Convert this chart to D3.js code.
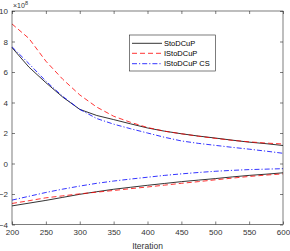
<!DOCTYPE html>
<html><head><meta charset="utf-8">
<script src="https://cdn.jsdelivr.net/npm/d3@7"></script>
<style>body{margin:0;background:#fff}svg{display:block}</style>
</head><body>
<script>
const iterations = [200,225,250,275,300,325,350,375,400,425,450,475,500,525,550,575,600];
// values in units of 1e8
const stoUpper  = [7.6,6.32,5.3,4.35,3.55,3.15,2.88,2.6,2.33,2.12,1.95,1.8,1.67,1.53,1.4,1.3,1.18];
const stoLower  = [-2.78,-2.6,-2.42,-2.22,-2.02,-1.85,-1.69,-1.56,-1.43,-1.31,-1.19,-1.09,-0.99,-0.88,-0.78,-0.7,-0.61];
const iStoUpper = [9.15,8.2,6.71,5.52,4.5,3.7,3.1,2.7,2.36,2.12,1.95,1.79,1.65,1.52,1.42,1.34,1.28];
const iStoLower = [-2.62,-2.44,-2.25,-2.12,-1.99,-1.88,-1.77,-1.65,-1.54,-1.42,-1.3,-1.19,-1.07,-0.96,-0.85,-0.76,-0.68];
const csUpper   = [7.65,6.55,5.4,4.4,3.55,2.95,2.58,2.28,2.0,1.72,1.48,1.32,1.19,1.06,0.94,0.81,0.67];
const csLower   = [-2.4,-2.15,-1.9,-1.68,-1.48,-1.3,-1.15,-1.02,-0.9,-0.78,-0.68,-0.59,-0.51,-0.45,-0.4,-0.37,-0.34];
const xTicks = [200,250,300,350,400,450,500,550,600];
const yTicks = [-4,-2,0,2,4,6,8,10];
const seriesNames = ["StoDCuP","IStoDCuP","IStoDCuP CS"];

(function(){
const W=290,H=251, L=12,T=11,R=283,B=224.5;
const svg=d3.select("body").append("svg").attr("width",W).attr("height",H)
  .style("font-family","'Liberation Sans',Arial,sans-serif");
const x=d3.scaleLinear().domain([200,600]).range([L,R]);
const y=d3.scaleLinear().domain([-4,10]).range([B,T]);
const axisCol="#262626", textCol="#333";

svg.append("rect").attr("x",L).attr("y",T).attr("width",R-L).attr("height",B-T).attr("fill","#fff");

const styles=[
  {c:"#000000",d:null},
  {c:"#ff0000",d:"5,3"},
  {c:"#0000ff",d:"5,2,1.2,2"}
];
const data=[[stoUpper,stoLower],[iStoUpper,iStoLower],[csUpper,csLower]];
const line=d3.line().x((d,i)=>x(iterations[i])).y(d=>y(d));
const g=svg.append("g");
data.forEach((pair,k)=>{
  pair.forEach(vals=>{
    g.append("path").attr("d",line(vals)).attr("fill","none")
      .attr("stroke",styles[k].c).attr("stroke-width",0.8)
      .attr("stroke-dasharray",styles[k].d);
  });
});

const ax=svg.append("g");
const fmt=d3.format("d");
const axB=d3.axisBottom(x).tickValues(xTicks).tickSize(-3).tickPadding(5).tickFormat(fmt);
const axT=d3.axisTop(x).tickValues(xTicks).tickSize(-3).tickFormat("");
const axL=d3.axisLeft(y).tickValues(yTicks).tickSize(-3).tickPadding(4).tickFormat(fmt);
const axR=d3.axisRight(y).tickValues(yTicks).tickSize(-3).tickFormat("");
function style(sel){
  sel.selectAll("path,line").attr("stroke",axisCol).attr("stroke-width",0.6);
  sel.selectAll("text").attr("fill",textCol).style("font-size","8px").style("font-family","'Liberation Sans',Arial,sans-serif");
}
ax.append("g").attr("transform",`translate(0,${B})`).call(axB).call(style);
ax.append("g").attr("transform",`translate(0,${T})`).call(axT).call(style);
ax.append("g").attr("transform",`translate(${L},0)`).call(axL).call(style);
ax.append("g").attr("transform",`translate(${R},0)`).call(axR).call(style);
ax.selectAll(".domain").remove();
svg.append("rect").attr("x",L).attr("y",T).attr("width",R-L).attr("height",B-T)
  .attr("fill","none").attr("stroke",axisCol).attr("stroke-width",0.6);

const ex=svg.append("text").attr("x",L+1).attr("y",T-3).attr("fill",textCol).style("font-size","7px");
ex.append("tspan").text("×10");
ex.append("tspan").attr("dy",-3).style("font-size","5.5px").text("8");

svg.append("text").attr("x",(L+R)/2).attr("y",249).attr("text-anchor","middle")
  .attr("fill",textCol).style("font-size","8.5px").text("Iteration");

const lg=svg.append("g");
lg.append("rect").attr("x",129.5).attr("y",35).attr("width",86).attr("height",36)
  .attr("fill","#fff").attr("stroke",axisCol).attr("stroke-width",0.6);
const rowY=[43.3,53.3,63.7];
seriesNames.forEach((n,i)=>{
  lg.append("line").attr("x1",132).attr("x2",162).attr("y1",rowY[i]).attr("y2",rowY[i])
    .attr("stroke",styles[i].c).attr("stroke-width",0.8).attr("stroke-dasharray",styles[i].d);
  lg.append("text").attr("x",164).attr("y",rowY[i]+2.6).attr("fill","#000")
    .style("font-size","7.5px").text(n);
});
})();
</script>
</body></html>
